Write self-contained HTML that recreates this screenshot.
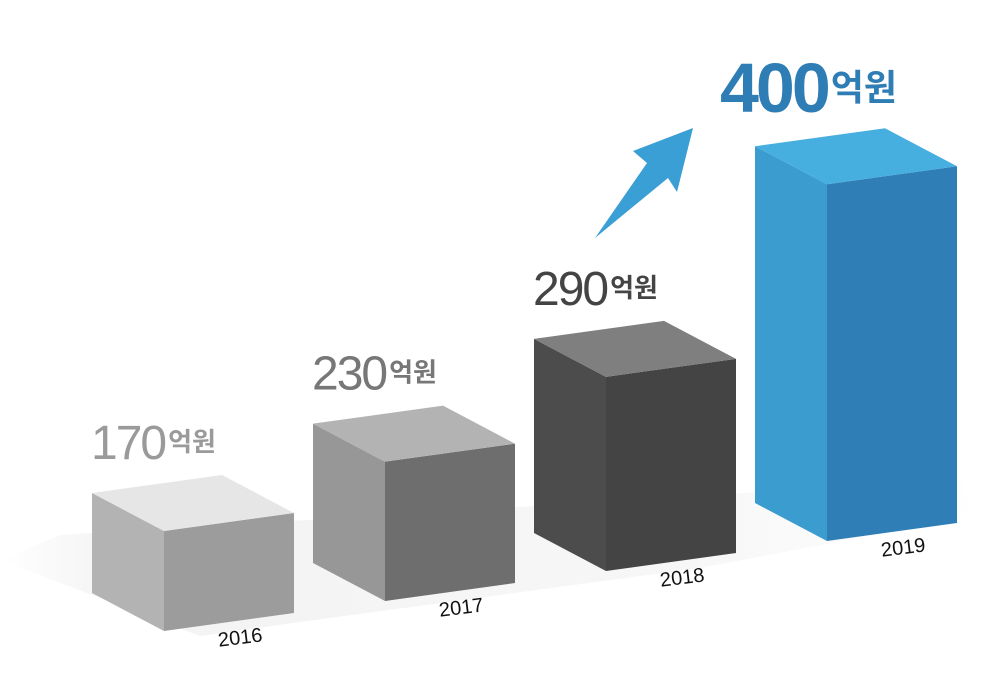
<!DOCTYPE html>
<html><head><meta charset="utf-8"><style>
html,body{margin:0;padding:0;background:#fff;}
svg{display:block;font-family:"Liberation Sans","Noto Sans CJK KR",sans-serif;}
</style></head><body>
<svg id="chart" width="1004" height="694" viewBox="0 0 1004 694" xmlns="http://www.w3.org/2000/svg">
<defs>
<linearGradient id="floorGrad" x1="0" y1="0" x2="1" y2="0">
<stop offset="0" stop-color="#ffffff"/><stop offset="0.12" stop-color="#f3f3f3"/><stop offset="0.7" stop-color="#f7f7f7"/><stop offset="1" stop-color="#ffffff"/>
</linearGradient>
</defs>
<polygon points="0,560 60,535 960,480 980,515 700,568 300,622 200,636" fill="url(#floorGrad)"/>
<polygon points="595,238 647,163 633,151 693,128 677,192 668,178" fill="#3a9fd5"/>
<g id="bars"></g>
</svg>
<script>
const categories = ["2016","2017","2018","2019"];
const values = [170,230,290,400];
const valueLabels = ["170","230","290","400"];
const unitLabel = "억원";

const svg = document.getElementById('chart');
const g = document.getElementById('bars');
const NS = 'http://www.w3.org/2000/svg';
// exponential height scale fitted to the illustration
function yScale(v){ return 100*Math.exp(0.00553*(v-170)); }
function xBase(i){ return 164 + i*221; }
function yBase(i){ return 631 - i*30; }
const W = [130,-18], D = [-72,-38];
const palettes = [
  {left:"#b3b3b3", front:"#9c9c9c", top:"#e6e6e6", label:"#9a9a9a"},
  {left:"#979797", front:"#6e6e6e", top:"#b3b3b3", label:"#777777"},
  {left:"#4c4c4c", front:"#444444", top:"#7f7f7f", label:"#444444"},
  {left:"#3a9ccf", front:"#2f7fb6", top:"#47aee0", label:"#2e7db5"}
];
function poly(pts, fill, name){
  const p = document.createElementNS(NS,'polygon');
  p.setAttribute('points', pts.map(a=>a.join(',')).join(' '));
  p.setAttribute('fill', fill);
  
  
  return p;
}
categories.forEach((c,i)=>{
  const h = yScale(values[i]);
  const x = xBase(i), y = yBase(i);
  const pal = palettes[i];
  const grp = document.createElementNS(NS,'g');
  
  
  const fbl=[x,y], fbr=[x+W[0],y+W[1]], ftl=[x,y-h], ftr=[x+W[0],y+W[1]-h];
  const lbl=[x+D[0],y+D[1]], ltl=[x+D[0],y+D[1]-h], btr=[x+W[0]+D[0],y+W[1]+D[1]-h];
  grp.appendChild(poly([ltl,ftl,fbl,lbl], pal.left, 'bar-side-'+c));
  grp.appendChild(poly([ftl,ftr,fbr,fbl], pal.front, 'bar-front-'+c));
  grp.appendChild(poly([ltl,btr,ftr,ftl], pal.top, 'bar-top-'+c));
  g.appendChild(grp);
  const t = document.createElementNS(NS,'text');
  const cx = x + W[0]/2 + 12, cy = y + W[1]/2 + 22;
  t.setAttribute('x', cx); t.setAttribute('y', cy);
  t.setAttribute('text-anchor','middle');
  t.setAttribute('font-size','20');
  t.setAttribute('fill','#111');
  t.setAttribute('transform','rotate(-7 '+cx+' '+cy+')');
  
  
  t.textContent = c;
  svg.appendChild(t);
  const big = i===3;
  const vt = document.createElementNS(NS,'text');
  vt.setAttribute('x', big ? 720 : ltl[0]-1);
  vt.setAttribute('y', ltl[1]-34);
  vt.setAttribute('fill', pal.label);
  vt.setAttribute('font-weight', big ? 'bold' : 'normal');
  vt.setAttribute('letter-spacing', big ? '-3' : '-2');
  
  
  const s1 = document.createElementNS(NS,'tspan');
  s1.setAttribute('font-size', big ? '70' : '48');
  s1.textContent = valueLabels[i];
  const s2 = document.createElementNS(NS,'tspan');
  s2.setAttribute('font-size', big ? '36' : '26');
  s2.setAttribute('font-weight','bold');
  s2.setAttribute('dx','3');
  s2.setAttribute('dy', big ? '-12' : '-8');
  s2.setAttribute('letter-spacing','0');
  s2.textContent = unitLabel;
  vt.appendChild(s1); vt.appendChild(s2);
  svg.appendChild(vt);
});
</script>
</body></html>
